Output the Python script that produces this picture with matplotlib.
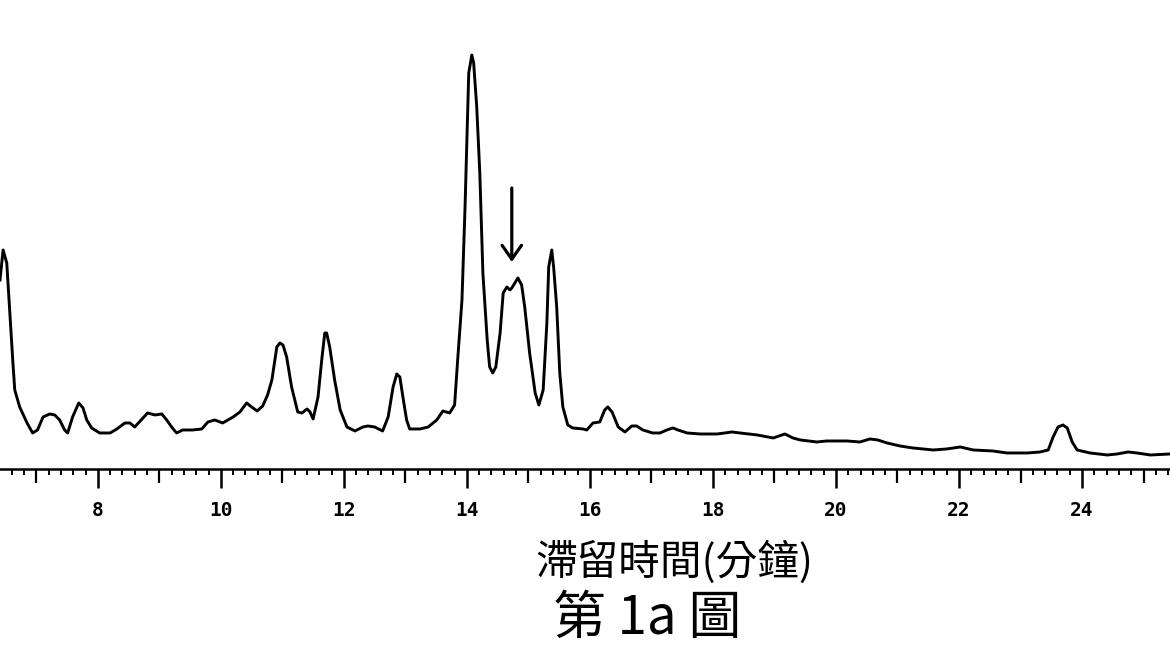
import matplotlib.pyplot as plt
from matplotlib.ticker import MultipleLocator, FormatStrFormatter

# Data (retention time in minutes, detector signal in arbitrary units)
time_min = [6.41, 6.46, 6.52, 6.57, 6.62, 6.65, 6.73, 6.85, 6.94, 7.02,
            7.11, 7.22, 7.30, 7.38, 7.46, 7.51, 7.59, 7.69, 7.76, 7.82,
            7.90, 8.03, 8.20, 8.31, 8.44, 8.52, 8.60, 8.72, 8.81, 8.93,
            9.04, 9.12, 9.20, 9.28, 9.38, 9.54, 9.69, 9.79, 9.90, 10.03,
            10.20, 10.31, 10.42, 10.50, 10.59, 10.68, 10.76, 10.83, 10.91, 10.96,
            11.01, 11.07, 11.15, 11.25, 11.32, 11.40, 11.45, 11.50, 11.58, 11.64,
            11.69, 11.72, 11.77, 11.85, 11.94, 12.05, 12.18, 12.31, 12.39, 12.50,
            12.63, 12.72, 12.80, 12.86, 12.91, 12.96, 13.02, 13.07, 13.24, 13.37,
            13.51, 13.61, 13.72, 13.80, 13.85, 13.92, 13.97, 14.00, 14.03, 14.08,
            14.11, 14.16, 14.21, 14.26, 14.33, 14.37, 14.42, 14.47, 14.54, 14.59,
            14.65, 14.70, 14.73, 14.78, 14.83, 14.89, 14.94, 15.02, 15.11, 15.17,
            15.24, 15.30, 15.33, 15.38, 15.41, 15.46, 15.51, 15.56, 15.64, 15.72,
            15.89, 15.95, 16.05, 16.16, 16.24, 16.29, 16.36, 16.46, 16.57, 16.68,
            16.76, 16.86, 17.02, 17.14, 17.25, 17.35, 17.43, 17.58, 17.79, 18.07,
            18.31, 18.44, 18.72, 18.98, 19.17, 19.30, 19.42, 19.69, 19.85, 20.18,
            20.39, 20.55, 20.68, 20.83, 21.04, 21.25, 21.58, 21.80, 22.02, 22.23,
            22.55, 22.78, 23.11, 23.32, 23.45, 23.53, 23.61, 23.69, 23.76, 23.84,
            23.92, 24.13, 24.41, 24.57, 24.75, 24.89, 25.11, 25.43]
signal = [189, 219, 206, 156, 106, 79, 62, 46, 36, 39,
          52, 55, 54, 49, 39, 36, 52, 66, 61, 49,
          41, 36, 36, 40, 46, 46, 42, 50, 56, 54,
          55, 49, 42, 36, 39, 39, 40, 47, 49, 46,
          52, 57, 66, 62, 58, 63, 74, 89, 122, 126,
          124, 112, 82, 57, 56, 60, 57, 50, 72, 109,
          136, 136, 122, 89, 59, 42, 38, 42, 43, 42,
          38, 52, 82, 95, 92, 72, 49, 40, 40, 42,
          49, 58, 56, 64, 109, 169, 262, 329, 396, 414,
          406, 362, 296, 196, 129, 102, 96, 102, 136, 176,
          182, 179, 181, 186, 191, 184, 162, 116, 76, 64,
          79, 146, 202, 219, 202, 162, 96, 62, 44, 41,
          40, 39, 46, 47, 59, 62, 57, 42, 37, 43,
          43, 39, 36, 36, 39, 41, 39, 36, 35, 35,
          37, 36, 34, 31, 35, 31, 29, 27, 28, 28,
          27, 30, 29, 26, 23, 21, 19, 20, 22, 19,
          18, 16, 16, 17, 19, 32, 42, 44, 41, 27,
          19, 16, 14, 15, 17, 16, 14, 15]

# Marked peak (arrow)
arrow_time = 14.73
arrow_top = 281
arrow_tip = 207

x_label = '滯留時間(分鐘)'
fig_title = '第 1a 圖'

fig = plt.figure(figsize=(11.7, 6.5), dpi=100)
ax = fig.add_axes([0, 0.2785, 1, 0.7215])

ax.plot(time_min, signal, color='black', linewidth=2.1)
ax.annotate('', xy=(arrow_time, arrow_tip), xytext=(arrow_time, arrow_top),
            arrowprops=dict(arrowstyle='->, head_length=1.0, head_width=0.7',
                            lw=2.3, color='black', shrinkA=0, shrinkB=0))

ax.set_xlim(6.41, 25.43)
ax.set_ylim(0, 469)

for side in ['top', 'left', 'right']:
    ax.spines[side].set_visible(False)
ax.spines['bottom'].set_linewidth(1.8)
ax.set_yticks([])

# Even minutes labelled, odd minutes medium ticks, 0.2 min small ticks
ax.xaxis.set_major_locator(MultipleLocator(2))
ax.xaxis.set_major_formatter(FormatStrFormatter('%d'))
ax.xaxis.set_minor_locator(MultipleLocator(0.2))
ax.tick_params(axis='x', which='major', direction='out', length=14, width=1.8,
               pad=9, labelsize=14)
ax.tick_params(axis='x', which='minor', direction='out', length=4.5, width=1.4)
for lbl in ax.get_xticklabels():
    lbl.set_fontfamily('DejaVu Sans Mono')
    lbl.set_fontweight('bold')

sec = ax.secondary_xaxis('bottom')
sec.set_xticks(range(7, 26, 2))
sec.set_xticklabels([])
sec.tick_params(direction='out', length=10, width=1.6)
sec.spines['bottom'].set_visible(False)

fig.text(0.576, 0.135, x_label, ha='center', va='center', fontsize=30,
         family=['Noto Sans CJK TC', 'DejaVu Sans'])
fig.text(0.553, 0.048, fig_title, ha='center', va='center', fontsize=38,
         family=['Noto Sans CJK TC', 'DejaVu Sans'])

plt.savefig('out.png', dpi=100)
